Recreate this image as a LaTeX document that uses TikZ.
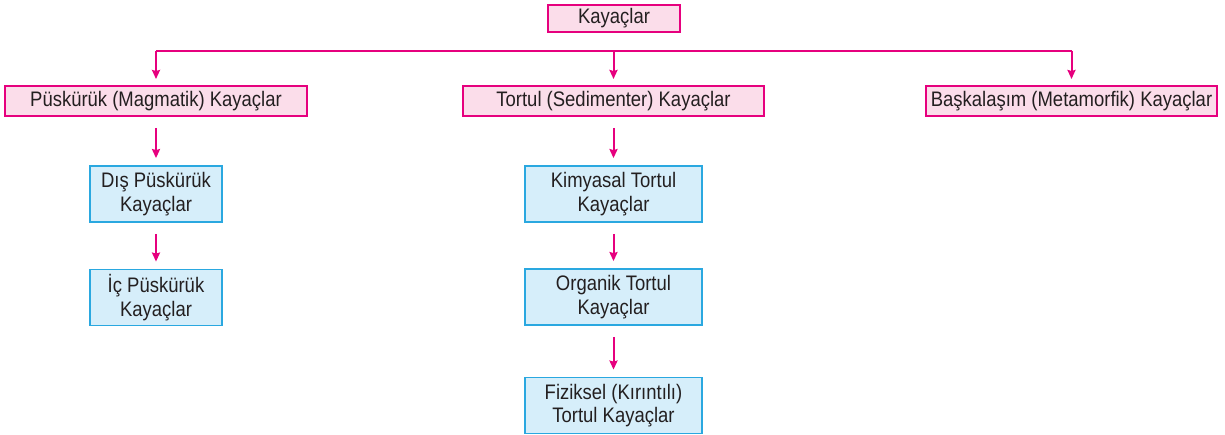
\documentclass[tikz,border=0pt]{standalone}
\usepackage{fontspec}
\setmainfont{Liberation Sans}[FakeStretch=0.88]
\usetikzlibrary{arrows.meta}
\definecolor{mag}{HTML}{E6007E}
\definecolor{pinkfill}{HTML}{FBDDEA}
\definecolor{bluedraw}{HTML}{2AA8E0}
\definecolor{bluefill}{HTML}{D6EEFA}
\definecolor{txt}{HTML}{231F20}
\begin{document}
\begin{tikzpicture}[x=1pt,y=-1pt,
  pbox/.style={draw=mag, fill=pinkfill, line width=2pt, minimum height=30pt, inner sep=0pt,
    font=\fontsize{21}{23.5}\selectfont, text=txt},
  bbox/.style={draw=bluedraw, fill=bluefill, line width=1.8pt, minimum width=132pt, minimum height=56pt,
    inner sep=0pt, align=center, font=\fontsize{21}{23.5}\selectfont, text=txt},
  wire/.style={draw=mag, line width=2pt},
  arr/.style={wire, -{Stealth[length=9pt,width=8pt,inset=1pt]}, shorten >=6pt},
  varr/.style={wire, -{Stealth[length=9pt,width=8pt,inset=1pt]}, shorten <=11pt, shorten >=7pt}
]
\useasboundingbox (0,0) rectangle (1225,435);

\node[pbox, minimum width=132pt, minimum height=27pt] (root) at (614,18.5) {Kayaçlar};
\node[pbox, minimum width=302pt] (p) at (156,101) {Püskürük (Magmatik) Kayaçlar};
\node[pbox, minimum width=301pt] (t) at (613.5,101) {Tortul (Sedimenter) Kayaçlar};
\node[pbox, minimum width=291pt] (b) at (1071.5,101) {Başkalaşım (Metamorfik) Kayaçlar};

\node[bbox] (d1) at (156,194) {Dış Püskürük\\Kayaçlar};
\node[bbox] (d2) at (156,297.5) {İç Püskürük\\Kayaçlar};

\node[bbox, minimum width=177pt] (k1) at (613.5,194) {Kimyasal Tortul\\Kayaçlar};
\node[bbox, minimum width=177pt] (k2) at (613.5,297) {Organik Tortul\\Kayaçlar};
\node[bbox, minimum width=177pt] (k3) at (613.5,405.5) {Fiziksel (Kırıntılı)\\Tortul Kayaçlar};

\coordinate (bus) at (614,51);
\draw[wire] (bus -| p.north) -- (bus -| b.north);
\draw[arr] (bus -| p.north) -- (p.north);
\draw[arr] (bus -| t.north) -- (t.north);
\draw[arr] (bus -| b.north) -- (b.north);

\draw[varr] (p.south) -- (d1.north);
\draw[varr] (d1.south) -- (d2.north);
\draw[varr] (t.south) -- (k1.north);
\draw[varr] (k1.south) -- (k2.north);
\draw[varr] (k2.south) -- (k3.north);
\end{tikzpicture}
\end{document}
